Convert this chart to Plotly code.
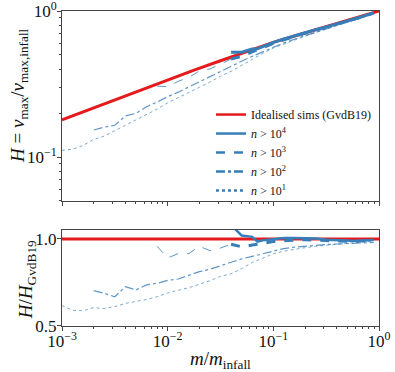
import plotly.graph_objects as go

# log10(m/m_infall) grids and values
red_lx = [-3.0, -2.75, -2.5, -2.25, -2.0, -1.75, -1.5, -1.25, -1.0, -0.75, -0.5, -0.25, 0.0]
red_h = [0.180, 0.211, 0.247, 0.290, 0.340, 0.394, 0.456, 0.527, 0.610, 0.690, 0.781, 0.884, 1.0]

n1_lx = [-3.0, -2.9, -2.8, -2.7, -2.6, -2.5, -2.4, -2.3, -2.2, -2.1, -2.0, -1.9, -1.8, -1.7, -1.6, -1.5,
         -1.4, -1.3, -1.2, -1.1, -1.0, -0.9, -0.8, -0.7, -0.6, -0.5, -0.4, -0.3, -0.2, -0.1, -0.05]
n1_h = [0.111, 0.113, 0.120, 0.132, 0.139, 0.151, 0.166, 0.180, 0.196, 0.213, 0.235, 0.254, 0.276, 0.300,
        0.326, 0.358, 0.386, 0.425, 0.470, 0.512, 0.558, 0.595, 0.634, 0.672, 0.712, 0.754, 0.795, 0.840,
        0.888, 0.937, 0.961]
n1_ratio = [0.617, 0.590, 0.588, 0.605, 0.600, 0.612, 0.630, 0.640, 0.652, 0.668, 0.690, 0.705, 0.720, 0.740,
            0.760, 0.785, 0.800, 0.830, 0.865, 0.890, 0.915, 0.930, 0.942, 0.950, 0.958, 0.965, 0.970, 0.975,
            0.980, 0.984, 0.986]

n2_lx = [-2.7, -2.6, -2.5, -2.4, -2.3, -2.2, -2.1, -2.0, -1.9, -1.8, -1.7, -1.6, -1.5, -1.4, -1.3, -1.2,
         -1.1, -1.0, -0.9, -0.8, -0.7, -0.6, -0.5, -0.4, -0.3, -0.2, -0.1, -0.05]
n2_h = [0.153, 0.160, 0.165, 0.191, 0.199, 0.221, 0.238, 0.259, 0.278, 0.302, 0.329, 0.355, 0.385, 0.418,
        0.453, 0.489, 0.526, 0.568, 0.605, 0.641, 0.678, 0.716, 0.756, 0.796, 0.840, 0.884, 0.931, 0.956]
n2_ratio = [0.703, 0.688, 0.668, 0.726, 0.707, 0.736, 0.745, 0.762, 0.770, 0.790, 0.812, 0.826, 0.845, 0.865,
            0.886, 0.900, 0.915, 0.932, 0.945, 0.953, 0.959, 0.963, 0.968, 0.971, 0.974, 0.976, 0.978, 0.980]

n3_thin_lx = [-2.1, -2.0, -1.9, -1.8, -1.7, -1.6, -1.5, -1.4]
n3_thin_h = [0.306, 0.303, 0.330, 0.351, 0.388, 0.401, 0.432, 0.469]
n3_thin_ratio = [0.958, 0.891, 0.916, 0.916, 0.958, 0.933, 0.948, 0.970]
n3_lx = [-1.4, -1.3, -1.2, -1.1, -1.0, -0.9, -0.8, -0.7, -0.6, -0.5, -0.4, -0.3, -0.2, -0.1, -0.05]
n3_h = [0.469, 0.489, 0.524, 0.561, 0.600, 0.634, 0.670, 0.704, 0.738, 0.773, 0.809, 0.851, 0.895, 0.942, 0.967]
n3_ratio = [0.970, 0.955, 0.965, 0.975, 0.985, 0.990, 0.995, 0.996, 0.993, 0.990, 0.987, 0.987, 0.988, 0.990, 0.992]

n4_lx = [-1.4, -1.3, -1.2, -1.15, -1.1, -1.0, -0.9, -0.8, -0.7, -0.6, -0.5, -0.4, -0.3, -0.2, -0.1, -0.05]
n4_h = [0.522, 0.522, 0.550, 0.551, 0.571, 0.610, 0.643, 0.677, 0.711, 0.745, 0.778, 0.813, 0.852, 0.895,
        0.944, 0.971]
n4_ratio = [1.080, 1.020, 1.012, 0.985, 0.992, 1.000, 1.005, 1.006, 1.006, 1.003, 0.996, 0.992, 0.988, 0.988,
            0.992, 0.996]

RED = "#e41a1c"
BLUE = "#377eb8"
FONT = "Liberation Serif"


def xs(lx):
    return [10 ** v for v in lx]


fig = go.Figure()

# bottom panel
for lx, r, dash, w, op in [(n1_lx, n1_ratio, "dot", 1, 0.65),
                           (n2_lx, n2_ratio, "dashdot", 1.2, 0.8),
                           (n3_thin_lx, n3_thin_ratio, "dash", 1, 0.8)]:
    fig.add_trace(go.Scatter(x=xs(lx), y=r, mode="lines", xaxis="x2", yaxis="y2", showlegend=False,
                             opacity=op, line=dict(color=BLUE, width=w, dash=dash)))
fig.add_trace(go.Scatter(x=[1e-3, 1], y=[1, 1], mode="lines", xaxis="x2", yaxis="y2", showlegend=False,
                         line=dict(color=RED, width=3)))
fig.add_trace(go.Scatter(x=xs(n3_lx), y=n3_ratio, mode="lines", xaxis="x2", yaxis="y2", showlegend=False,
                         line=dict(color=BLUE, width=3, dash="dash")))
fig.add_trace(go.Scatter(x=xs(n4_lx), y=n4_ratio, mode="lines", xaxis="x2", yaxis="y2", showlegend=False,
                         line=dict(color=BLUE, width=2.5)))

# top panel
fig.add_trace(go.Scatter(x=xs(red_lx), y=red_h, mode="lines", showlegend=False, line=dict(color=RED, width=3)))
for lx, h, dash, w, op in [(n1_lx, n1_h, "dot", 1, 0.65),
                           (n2_lx, n2_h, "dashdot", 1.2, 0.8),
                           (n3_thin_lx, n3_thin_h, "dash", 1, 0.8)]:
    fig.add_trace(go.Scatter(x=xs(lx), y=h, mode="lines", showlegend=False, opacity=op,
                             line=dict(color=BLUE, width=w, dash=dash)))
fig.add_trace(go.Scatter(x=xs(n3_lx), y=n3_h, mode="lines", showlegend=False,
                         line=dict(color=BLUE, width=3, dash="dash")))
fig.add_trace(go.Scatter(x=xs(n4_lx), y=n4_h, mode="lines", showlegend=False, line=dict(color=BLUE, width=3)))

# legend entries
legend_items = [("Idealised sims (GvdB19)", RED, "solid"),
                ("<i>n</i> > 10<sup>4</sup>", BLUE, "solid"),
                ("<i>n</i> > 10<sup>3</sup>", BLUE, "dash"),
                ("<i>n</i> > 10<sup>2</sup>", BLUE, "dashdot"),
                ("<i>n</i> > 10<sup>1</sup>", BLUE, "dot")]
for name, c, dash in legend_items:
    fig.add_trace(go.Scatter(x=[None], y=[None], mode="lines", name=name,
                             line=dict(color=c, width=2.5, dash=dash)))

axis_common = dict(showline=True, mirror=True, linecolor="#444", linewidth=1, ticks="outside",
                   ticklen=4, tickcolor="#444", showgrid=False, zeroline=False, automargin=False,
                   ticklabeloverflow="allow",
                   tickfont=dict(family=FONT, size=17, color="#111"))
x_ticks = dict(tickvals=[1e-3, 1e-2, 1e-1, 1],
               ticktext=["10<sup>−3</sup>", "10<sup>−2</sup>", "10<sup>−1</sup>", "10<sup>0</sup>"],
               ticklabelstandoff=-4,
               minor=dict(ticks="outside", ticklen=2, tickcolor="#444",
                          tickvals=[k * 10 ** e for e in (-3, -2, -1) for k in range(2, 10)]))

title_font = dict(family=FONT, size=19, color="#111")

fig.update_layout(
    width=395, height=372,
    margin=dict(l=62, r=16, t=11, b=46, autoexpand=False),
    paper_bgcolor="white", plot_bgcolor="white",
    font=dict(family=FONT, size=13, color="#111"),
    xaxis=dict(type="log", range=[-3, 0], domain=[0, 1], anchor="y", showticklabels=False,
               **x_ticks, **axis_common),
    yaxis=dict(type="log", range=[-1.301, 0], domain=[0.397, 1], anchor="x", ticklabelstandoff=-3,
               tickvals=[0.1, 1], ticktext=["10<sup>−1</sup>", "10<sup>0</sup>"],
               minor=dict(ticks="outside", ticklen=2, tickcolor="#444",
                          tickvals=[0.05, 0.06, 0.07, 0.08, 0.09, 0.2, 0.3, 0.4, 0.5, 0.6, 0.7, 0.8, 0.9]),
               **axis_common),
    xaxis2=dict(type="log", range=[-3, 0], domain=[0, 1], anchor="y2", **x_ticks, **axis_common),
    yaxis2=dict(range=[0.5, 1.052], domain=[0, 0.305], anchor="x2", ticklabelstandoff=-3,
                tickvals=[0.5, 1.0], ticktext=["0.5", "1.0"], **axis_common),
    legend=dict(x=0.47, y=0.384, xanchor="left", yanchor="bottom", bgcolor="rgba(0,0,0,0)",
                font=dict(family=FONT, size=12), tracegroupgap=0, itemwidth=30),
    annotations=[
        dict(text="<i>H</i> = <i>v</i><sub>max</sub>/<i>v</i><sub>max,infall</sub>", xref="paper", yref="paper",
             x=-0.136, y=0.733, xanchor="center", yanchor="middle", textangle=-90, showarrow=False,
             font=title_font),
        dict(text="<i>H</i>/<i>H</i><sub>GvdB19</sub>", xref="paper", yref="paper",
             x=-0.11, y=0.146, xanchor="center", yanchor="middle", textangle=-90, showarrow=False,
             font=title_font),
        dict(text="<i>m</i>/<i>m</i><sub>infall</sub>", xref="paper", yref="paper",
             x=0.5, y=-0.108, xanchor="center", yanchor="middle", showarrow=False, font=title_font),
    ],
)

fig.write_html("out.html", config={"displayModeBar": False},
               post_script="document.body.style.margin='0';")
